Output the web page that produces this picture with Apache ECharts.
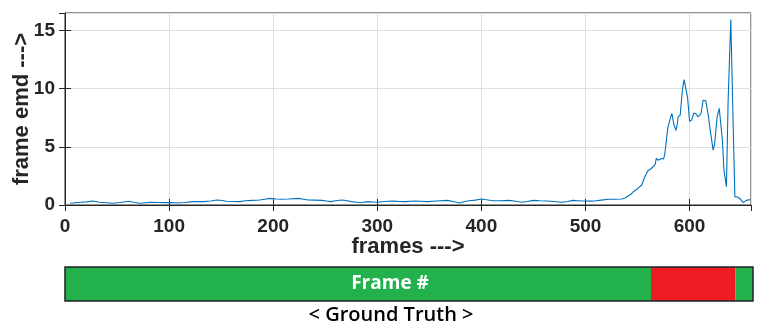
<!DOCTYPE html>
<html>
<head>
<meta charset="utf-8">
<script src="https://cdn.jsdelivr.net/npm/echarts@6/dist/echarts.min.js"></script>
<style>
html,body{margin:0;padding:0;background:#fff;}
#chart{width:768px;height:330px;}
</style>
</head>
<body>
<div id="chart"></div>
<script>
// frame index and frame EMD values
var frames = [5,10,15,21,27,33,40,46,53,61,66,72,78,83,90,98,103,107,115,123,133,140,146,151,155,162,168,173,180,187,192,197,203,208,215,224,229,234,240,247,251,255,260,266,270,275,280,284,291,296,300,307,314,320,327,336,342,348,357,367,373,379,383,388,394,400,405,411,418,427,433,439,444,450,456,463,470,477,483,488,493,498,504,509,515,522,528,535,538,541,544,546,550,554,557,560,562,565,567,568,570,573,575,576,577,579,581,583,585,587,588,589,591,593,594.7,597,598,600,602,604,606,608,609,611,613,615.6,618,620,622.6,624,626.5,628.5,631.5,633,635.4,637,638.5,639.6,641.5,642.8,643.5,646.6,649,651.5,654.5,658];
var emd = [0.15,0.2,0.23,0.27,0.34,0.23,0.19,0.15,0.22,0.32,0.24,0.15,0.2,0.23,0.22,0.2,0.22,0.17,0.22,0.29,0.29,0.35,0.43,0.38,0.32,0.3,0.29,0.37,0.4,0.43,0.5,0.57,0.52,0.49,0.52,0.57,0.5,0.43,0.42,0.4,0.35,0.29,0.36,0.43,0.38,0.29,0.24,0.2,0.29,0.26,0.23,0.3,0.34,0.31,0.29,0.34,0.32,0.29,0.34,0.4,0.3,0.17,0.28,0.37,0.42,0.51,0.45,0.37,0.36,0.4,0.32,0.23,0.3,0.4,0.36,0.34,0.3,0.23,0.3,0.4,0.37,0.34,0.33,0.34,0.42,0.49,0.5,0.52,0.6,0.77,0.95,1.14,1.4,1.72,2.43,2.95,3.05,3.29,3.5,4.0,3.85,4.0,3.95,4.29,5.0,6.58,7.3,7.87,6.87,6.4,6.9,7.58,7.72,9.81,10.78,9.73,9.3,7.2,7.3,7.9,7.85,7.58,7.45,7.86,9.0,8.95,7.7,6.3,4.72,5.2,7.58,8.3,5.6,3.0,1.57,8.87,8.72,15.95,8.3,8.15,0.72,0.66,0.49,0.2,0.4,0.46];
// ground-truth segments (frame ranges)
var gtKind  = ['normal','anomaly','normal'];
var gtStart = [0, 563, 644];
var gtEnd   = [563, 644, 661];
var xTicks = [0,100,200,300,400,500,600];
var yTicks = [0,5,10,15];

var chart = echarts.init(document.getElementById('chart'), null, {renderer:'canvas'});
var lineData = frames.map(function(f,i){return [f, emd[i]];});
var gtColors = {normal:'#22B14C', anomaly:'#ED1C24'};
var gtSeries = gtKind.map(function(k,i){
  return {type:'bar', xAxisIndex:2, yAxisIndex:2, stack:'gt', barWidth:'100%',
    data:[gtEnd[i]-gtStart[i]], itemStyle:{color:gtColors[k]}, silent:true, animation:false};
});
var axisText = {fontFamily:'Liberation Sans, Arial, sans-serif', fontWeight:'bold', fontSize:19, color:'#262626'};
chart.setOption({
  animation:false,
  grid:[
    {left:65, right:17, top:13, bottom:125, show:true, borderColor:'#262626', borderWidth:1,
     backgroundColor:'transparent', containLabel:false, outerBoundsMode:'none'},
    {left:65, width:688, top:267, height:34, show:true, borderColor:'#222', borderWidth:1.5, z:5,
     containLabel:false, outerBoundsMode:'none'}
  ],
  xAxis:[
    {type:'value', gridIndex:0, min:0, max:659, interval:100,
     axisLine:{show:true, lineStyle:{color:'#262626'}},
     axisTick:{show:true, inside:true, length:6, lineStyle:{color:'#262626'}},
     splitLine:{show:true, lineStyle:{color:'#dedede', width:1}},
     axisLabel:Object.assign({margin:12, showMaxLabel:false}, axisText),
     name:'frames --->', nameLocation:'middle', nameGap:31, nameMoveOverlap:false,
     nameTextStyle:Object.assign({}, axisText, {fontSize:22})},
    {type:'value', gridIndex:0, position:'top', min:0, max:659, interval:100,
     axisLine:{show:false}, axisTick:{show:true, inside:true, length:6, lineStyle:{color:'#262626'}},
     splitLine:{show:false}, axisLabel:{show:false}},
    {type:'value', gridIndex:1, min:0, max:661, show:false}
  ],
  yAxis:[
    {type:'value', gridIndex:0, min:0, max:16.5, interval:5,
     axisLine:{show:true, lineStyle:{color:'#262626'}},
     axisTick:{show:true, inside:true, length:6, lineStyle:{color:'#262626'}},
     splitLine:{show:true, lineStyle:{color:'#dedede', width:1}},
     axisLabel:Object.assign({margin:10, showMaxLabel:false}, axisText),
     name:'frame emd --->', nameLocation:'middle', nameGap:32, nameRotate:90, nameMoveOverlap:false,
     nameTextStyle:Object.assign({}, axisText, {fontSize:22})},
    {type:'value', gridIndex:0, position:'right', min:0, max:16.5, interval:5,
     axisLine:{show:false}, axisTick:{show:true, inside:true, length:6, lineStyle:{color:'#262626'}},
     splitLine:{show:false}, axisLabel:{show:false}},
    {type:'category', gridIndex:1, data:[''], show:false}
  ],
  series:[
    {type:'line', xAxisIndex:0, yAxisIndex:0, data:lineData, showSymbol:false, symbol:'none',
     lineStyle:{color:'#0072BD', width:1.1}, z:3}
  ].concat(gtSeries),
  graphic:[
    {type:'text', z:100,
     style:{text:'Frame #', x:390, y:284, textAlign:'center', textVerticalAlign:'middle',
       fill:'#fff', font:'bold 19px "Open Sans", sans-serif'}},
    {type:'text', z:100,
     style:{text:'< Ground Truth >', x:391, y:315, textAlign:'center', textVerticalAlign:'middle',
       fill:'#000', font:'600 20px "Open Sans", sans-serif'}}
  ]
});
</script>
</body>
</html>
